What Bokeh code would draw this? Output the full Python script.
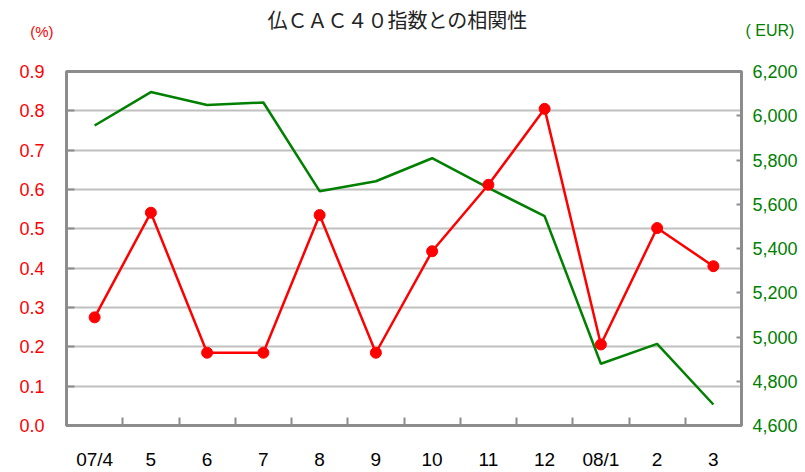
from bokeh.plotting import figure
from bokeh.layouts import column
from bokeh.models import Range1d, LinearAxis, FixedTicker, NumeralTickFormatter
from bokeh.core.properties import value
from bokeh.embed import file_html
from bokeh.resources import INLINE

# ---- data ----
months = ["07/4", "5", "6", "7", "8", "9", "10", "11", "12", "08/1", "2", "3"]
correlation_pct = [0.275, 0.541, 0.185, 0.185, 0.535, 0.185, 0.443, 0.612, 0.805, 0.206, 0.502, 0.405]
cac40_eur = [5956, 6107, 6049, 6060, 5659, 5704, 5808, 5674, 5546, 4879, 4969, 4695]
pct_ticks = [0.0, 0.1, 0.2, 0.3, 0.4, 0.5, 0.6, 0.7, 0.8, 0.9]
eur_ticks = [4600, 4800, 5000, 5200, 5400, 5600, 5800, 6000, 6200]
title_text = "仏ＣＡＣ４０指数との相関性"
left_unit = "(%)"
right_unit = "( EUR)"

RED = "#ff0000"
GREEN = "#008000"
GRAY = "#8c8c8c"
NUM_FONT = "Liberation Sans"
FRAME_L, FRAME_W = 66, 675
HEADER_H = 50

# ---- header (title and unit labels) ----
hdr = figure(frame_width=FRAME_W, height=HEADER_H,
             x_range=Range1d(FRAME_L, FRAME_L + FRAME_W), y_range=Range1d(HEADER_H, 0),
             x_axis_type=None, y_axis_type=None,
             min_border_left=FRAME_L, min_border_right=56, min_border_top=0, min_border_bottom=0,
             outline_line_color=None, output_backend="svg", toolbar_location=None,
             background_fill_color="white", border_fill_color="white")
hdr.xgrid.visible = False
hdr.ygrid.visible = False
hdr.text(x=[397], y=[18.5], text=[title_text], text_align="center", text_baseline="middle",
         text_font=value("Noto Sans CJK JP"), text_font_size=value("20px"), text_color="#222222")

for side, txt, col, size, standoff, yv in (("left", left_unit, RED, "15px", 13, 31),
                                           ("right", right_unit, GREEN, "16px", 4, 30)):
    ax = LinearAxis(ticker=FixedTicker(ticks=[yv]), major_label_overrides={yv: txt})
    ax.axis_line_color = None
    ax.major_tick_line_color = None
    ax.minor_tick_line_color = None
    ax.major_tick_in = 0
    ax.major_tick_out = 0
    ax.major_label_standoff = standoff
    ax.major_label_text_font = NUM_FONT
    ax.major_label_text_font_size = size
    ax.major_label_text_color = col
    hdr.add_layout(ax, side)

# ---- main chart ----
xs = list(range(len(months)))

p = figure(frame_width=FRAME_W, frame_height=354,
           min_border_left=FRAME_L, min_border_right=56, min_border_top=21, min_border_bottom=46,
           x_range=Range1d(-0.5, len(months) - 0.5),
           y_range=Range1d(pct_ticks[0], pct_ticks[-1]),
           output_backend="svg", toolbar_location=None,
           background_fill_color="white", border_fill_color="white")

p.outline_line_color = GRAY
p.outline_line_width = 3

p.extra_y_ranges = {"eur": Range1d(eur_ticks[0], eur_ticks[-1])}

# grid
p.xgrid.grid_line_color = None
p.ygrid.ticker = FixedTicker(ticks=pct_ticks)
p.ygrid.grid_line_color = "#c0c0c0"
p.ygrid.grid_line_width = 2

# x axis
xa = p.xaxis[0]
xa.ticker = FixedTicker(ticks=xs, minor_ticks=[i + 0.5 for i in xs[:-1]])
xa.major_label_overrides = {i: m for i, m in zip(xs, months)}
xa.major_tick_in = 0
xa.major_tick_out = 0
xa.minor_tick_in = 8
xa.minor_tick_out = 0
xa.minor_tick_line_color = GRAY
xa.minor_tick_line_width = 2
xa.axis_line_color = GRAY
xa.axis_line_width = 3
xa.major_label_text_font = NUM_FONT
xa.major_label_text_font_size = "19px"
xa.major_label_text_color = "#000000"
xa.major_label_standoff = 23

# left y axis
ya = p.yaxis[0]
ya.ticker = FixedTicker(ticks=pct_ticks)
ya.formatter = NumeralTickFormatter(format="0.0")
ya.major_tick_in = 8
ya.major_tick_out = 0
ya.minor_tick_line_color = None
ya.major_tick_line_color = GRAY
ya.major_tick_line_width = 2
ya.axis_line_color = GRAY
ya.axis_line_width = 3
ya.major_label_text_font = NUM_FONT
ya.major_label_text_font_size = "18px"
ya.major_label_text_color = RED
ya.major_label_standoff = 22

# right y axis
ra = LinearAxis(y_range_name="eur", ticker=FixedTicker(ticks=eur_ticks),
                formatter=NumeralTickFormatter(format="0,0"))
ra.major_tick_in = 5
ra.major_tick_out = 0
ra.minor_tick_line_color = None
ra.major_tick_line_color = GRAY
ra.major_tick_line_width = 2
ra.axis_line_color = GRAY
ra.axis_line_width = 3
ra.major_label_text_font = NUM_FONT
ra.major_label_text_font_size = "18px"
ra.major_label_text_color = GREEN
ra.major_label_standoff = 11
p.add_layout(ra, "right")

# series
p.line(xs, cac40_eur, y_range_name="eur", line_color=GREEN, line_width=2.5)
p.line(xs, correlation_pct, line_color=RED, line_width=2.5)
p.scatter(xs, correlation_pct, size=11, fill_color=RED, line_color=RED)

layout = column(hdr, p, spacing=0)
open("out.html", "w").write(file_html(layout, INLINE))
